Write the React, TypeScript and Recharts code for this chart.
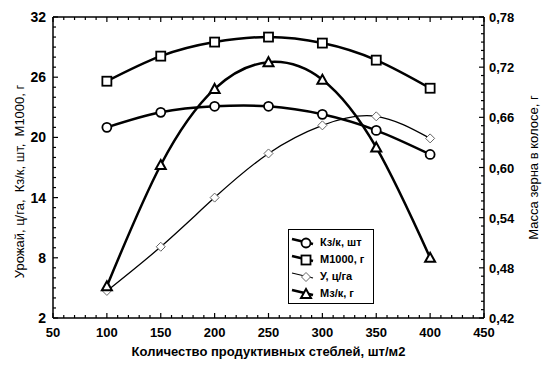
import { LineChart, Line, XAxis, YAxis } from 'recharts';

const stems = [100, 150, 200, 250, 300, 350, 400];
const grainsPerEar = [21.0, 22.5, 23.1, 23.1, 22.3, 20.7, 18.3];
const m1000 = [25.6, 28.1, 29.5, 30.0, 29.4, 27.7, 24.9];
const yieldCh = [4.7, 9.1, 14.0, 18.4, 21.2, 22.1, 19.9];
const grainMass = [0.458, 0.603, 0.694, 0.726, 0.705, 0.624, 0.492];

const xMajor = [50, 100, 150, 200, 250, 300, 350, 400, 450];
const leftMajor = [2, 8, 14, 20, 26, 32];
const rightMajor = [0.42, 0.48, 0.54, 0.6, 0.66, 0.72, 0.78];

const data = stems.map((s, i) => ({
  x: s,
  kz: grainsPerEar[i],
  m: m1000[i],
  u: yieldCh[i],
  mz: grainMass[i],
}));

const range = (a: number, b: number, step: number) => {
  const out: number[] = [];
  for (let v = a; v <= b + step / 2; v += step) out.push(Math.round(v * 1000) / 1000);
  return out;
};
const xTicks = range(50, 450, 10);
const leftTicks = range(2, 32, 1);
const rightTicks = range(0.42, 0.78, 0.01);

const FONT = '"Liberation Sans", Arial, sans-serif';
const isMajor = (list: number[], v: number) => list.some((m) => Math.abs(m - v) < 1e-6);

const BottomTick = (p: any) => {
  const v = p.payload.value;
  const major = isMajor(xMajor, v);
  return (
    <g>
      <line x1={p.x} x2={p.x} y1={p.y} y2={p.y - (major ? 5 : 3)} stroke="#000" strokeWidth={1.2} />
      {major && (
        <text x={p.x} y={p.y + 19} textAnchor="middle" fontSize={13} fontWeight="bold" fontFamily={FONT} fill="#000">
          {v}
        </text>
      )}
    </g>
  );
};

const TopTick = (p: any) => {
  const v = p.payload.value;
  const major = isMajor(xMajor, v);
  return <line x1={p.x} x2={p.x} y1={p.y} y2={p.y + (major ? 5 : 3)} stroke="#000" strokeWidth={1.2} />;
};

const LeftTick = (p: any) => {
  const v = p.payload.value;
  const major = isMajor(leftMajor, v);
  return (
    <g>
      <line x1={p.x} x2={p.x + (major ? 5 : 3)} y1={p.y} y2={p.y} stroke="#000" strokeWidth={1.2} />
      {major && (
        <text x={p.x - 7} y={p.y + 5} textAnchor="end" fontSize={14} fontWeight="bold" fontFamily={FONT} fill="#000">
          {v}
        </text>
      )}
    </g>
  );
};

const RightTick = (p: any) => {
  const v = p.payload.value;
  const major = isMajor(rightMajor, v);
  return (
    <g>
      <line x1={p.x} x2={p.x - (major ? 5 : 3)} y1={p.y} y2={p.y} stroke="#000" strokeWidth={1.2} />
      {major && (
        <text x={p.x + 5} y={p.y + 5} textAnchor="start" fontSize={13} fontWeight="bold" fontFamily={FONT} fill="#000">
          {v.toFixed(2).replace('.', ',')}
        </text>
      )}
    </g>
  );
};

const VLabel = ({ viewBox, text, px, shift }: any) => {
  const cy = viewBox.y + viewBox.height / 2 + (shift || 0);
  return (
    <text
      x={px}
      y={cy}
      transform={`rotate(-90 ${px} ${cy})`}
      textAnchor="middle"
      dominantBaseline="central"
      fontSize={13}
      fontFamily={FONT}
      fill="#000"
      style={{ whiteSpace: 'pre' }}
    >
      {text}
    </text>
  );
};

const Circle = ({ cx, cy }: any) => <circle cx={cx} cy={cy} r={4.5} fill="#fff" stroke="#000" strokeWidth={1.8} />;
const Square = ({ cx, cy }: any) => (
  <rect x={cx - 4.5} y={cy - 4.5} width={9} height={9} fill="#fff" stroke="#000" strokeWidth={1.8} />
);
const Diamond = ({ cx, cy }: any) => (
  <path d={`M${cx},${cy - 4.5}L${cx + 4.5},${cy}L${cx},${cy + 4.5}L${cx - 4.5},${cy}Z`} fill="#fff" stroke="#666" strokeWidth={1} />
);
const Triangle = ({ cx, cy }: any) => (
  <path d={`M${cx},${cy - 5}L${cx + 5},${cy + 4}L${cx - 5},${cy + 4}Z`} fill="#fff" stroke="#000" strokeWidth={2} />
);

const legendItems = [
  { label: 'Кз/к, шт', Dot: Circle, w: 2.5 },
  { label: 'M1000, г', Dot: Square, w: 2.5 },
  { label: 'У, ц/га', Dot: Diamond, w: 1.2 },
  { label: 'Mз/к, г', Dot: Triangle, w: 2.5 },
];

const LegendBox = () => (
  <div
    style={{
      position: 'absolute',
      left: 288,
      top: 229,
      width: 80,
      border: '1.5px solid #000',
      background: '#fff',
      padding: '3px 2px 2px 2px',
    }}
  >
    {legendItems.map(({ label, Dot, w }) => (
      <div key={label} style={{ display: 'flex', alignItems: 'center', height: 17 }}>
        <svg width={26} height={14} style={{ flex: 'none' }}>
          <line x1={1} y1={4} x2={22} y2={9} stroke="#000" strokeWidth={w} />
          <Dot cx={15} cy={8} />
        </svg>
        <span style={{ fontFamily: FONT, fontSize: 11, fontWeight: 'bold', marginLeft: 3, whiteSpace: 'nowrap' }}>{label}</span>
      </div>
    ))}
  </div>
);

export default function App() {
  return (
    <div style={{ position: 'absolute', left: 0, top: 0, width: 543, height: 369, background: '#fff' }}>
      <LineChart width={543} height={369} data={data} margin={{ top: 0, right: 0, bottom: 0, left: 0 }}>
        <XAxis
          dataKey="x"
          type="number"
          domain={[50, 450]}
          ticks={xTicks}
          interval={0}
          tick={<BottomTick />}
          tickLine={false}
          tickSize={0}
          tickMargin={0}
          height={51}
          stroke="#000"
          strokeWidth={1.5}
          label={{ value: 'Количество продуктивных стеблей, шт/м2', position: 'insideBottom', offset: 13, fontSize: 13, fontWeight: 'bold', fontFamily: FONT, fill: '#000' }}
        />
        <XAxis
          xAxisId="top"
          orientation="top"
          dataKey="x"
          type="number"
          domain={[50, 450]}
          ticks={xTicks}
          interval={0}
          tick={<TopTick />}
          tickLine={false}
          tickSize={0}
          tickMargin={0}
          height={17}
          stroke="#000"
          strokeWidth={1.5}
        />
        <YAxis
          yAxisId="left"
          domain={[2, 32]}
          ticks={leftTicks}
          interval={0}
          tick={<LeftTick />}
          tickLine={false}
          tickSize={0}
          tickMargin={0}
          width={53}
          stroke="#000"
          strokeWidth={1.5}
          label={<VLabel text={'Урожай, ц/га,  Кз/к, шт,  M1000, г'} px={19} shift={14} />}
        />
        <YAxis
          yAxisId="right"
          orientation="right"
          domain={[0.42, 0.78]}
          ticks={rightTicks}
          interval={0}
          tick={<RightTick />}
          tickLine={false}
          tickSize={0}
          tickMargin={0}
          width={59}
          stroke="#000"
          strokeWidth={1.5}
          label={<VLabel text="Масса зерна в колосе, г" px={533} shift={0} />}
        />
        <Line yAxisId="left" dataKey="u" type="natural" stroke="#000" strokeWidth={1.3} dot={<Diamond />} isAnimationActive={false} />
        <Line yAxisId="left" dataKey="kz" type="natural" stroke="#000" strokeWidth={2.5} dot={<Circle />} isAnimationActive={false} />
        <Line yAxisId="left" dataKey="m" type="natural" stroke="#000" strokeWidth={2.5} dot={<Square />} isAnimationActive={false} />
        <Line yAxisId="right" dataKey="mz" type="natural" stroke="#000" strokeWidth={2.5} dot={<Triangle />} isAnimationActive={false} />
      </LineChart>
      <LegendBox />
    </div>
  );
}
